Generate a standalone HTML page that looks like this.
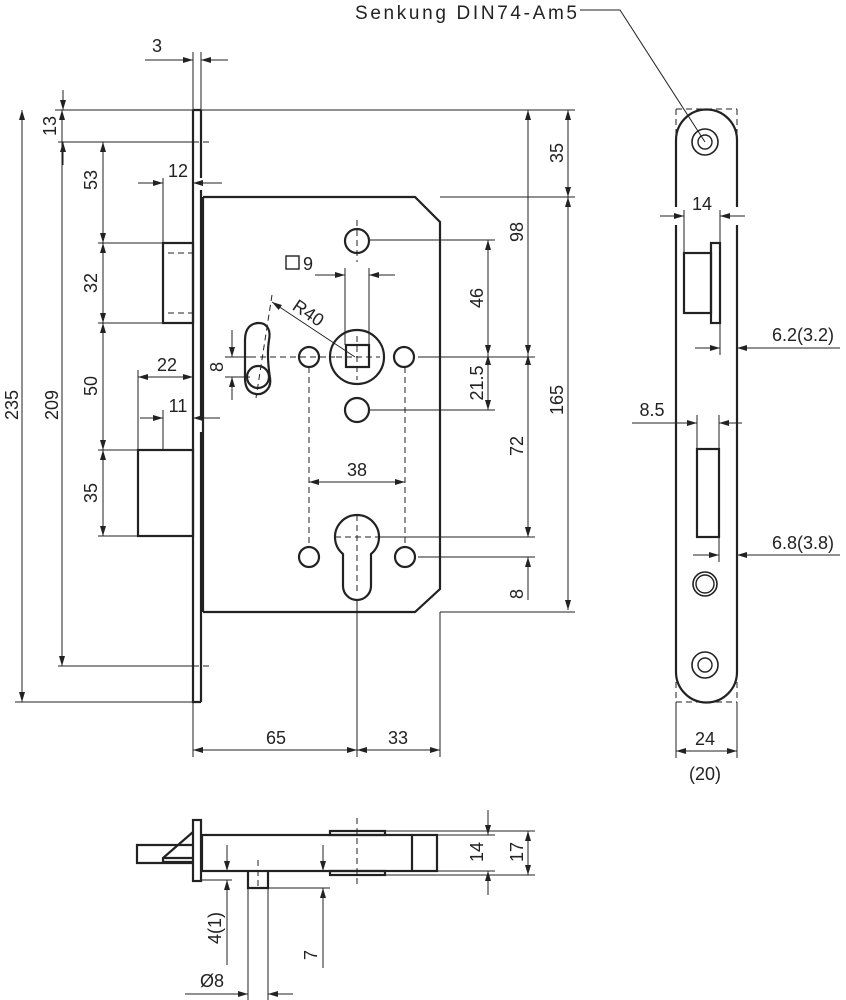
<!DOCTYPE html>
<html><head><meta charset="utf-8"><style>
html,body{margin:0;padding:0;background:#fff}
svg{display:block}
text{font-family:"Liberation Sans",sans-serif;font-size:18px;fill:#222}
</style></head><body>
<svg width="846" height="1000" viewBox="0 0 846 1000" xmlns="http://www.w3.org/2000/svg">
<defs>
<marker id="a" viewBox="0 0 10 6" refX="10" refY="3" markerWidth="10" markerHeight="6" markerUnits="userSpaceOnUse" orient="auto-start-reverse"><path d="M0,0L10,3L0,6z" fill="#222"/></marker>
</defs>
<g stroke="#222" fill="none">
<g stroke-width="2.2">
<path d="M193,110V702H201"/>
<path d="M201,110V178M201,190V420M201,432V702M193,110H201"/>
<path d="M203,197H415L440,222V589L415,612H203"/>
<path d="M203,197V612"/>
<rect x="163" y="243" width="30" height="80"/>
<rect x="138" y="450" width="55" height="86"/>
<circle cx="357" cy="241" r="12"/>
<circle cx="357" cy="357" r="27"/>
<rect x="346" y="345" width="23" height="22"/>
<circle cx="309" cy="357" r="10"/>
<circle cx="404" cy="357" r="10"/>
<circle cx="357" cy="410" r="12"/>
<circle cx="309" cy="557" r="10"/>
<circle cx="405" cy="557" r="10"/>
<path d="M343,554A22,22 0 1 1 371,554V586A14,14 0 0 1 343,586Z"/>
<path d="M245,340C245,328 251,323 259,323C267,323 271,330 269,340C267,352 268,365 270,378C272,390 262,395 256,394C249,393 245,388 245,378Z"/>
<circle cx="258" cy="377" r="11"/>
<path d="M676,140A30.5,30.5 0 0 1 737,140M676,672A30.5,30.5 0 0 0 737,672"/>
<path d="M676,140V207M676,225V672M737,140V207M737,225V672"/>
<circle cx="705" cy="142" r="13" stroke-width="1.6"/><circle cx="705" cy="142" r="7" stroke-width="1.4"/>
<circle cx="705" cy="584" r="12" stroke-width="1.6"/><circle cx="705" cy="584" r="9" stroke-width="1.4"/>
<circle cx="705" cy="665" r="13" stroke-width="1.6"/><circle cx="705" cy="665" r="7" stroke-width="1.4"/>
<rect x="684" y="253" width="27" height="60"/>
<rect x="711" y="243" width="9" height="80"/>
<rect x="697" y="449" width="22" height="88"/>
<rect x="202" y="835" width="235" height="36"/>
<path d="M412,835V871"/>
<rect x="193" y="820" width="8" height="61"/>
<path d="M193,845H137V863H193"/>
<path d="M193,832L163,858V862H193M163,858H193"/>
<rect x="330" y="831" width="55" height="4"/>
<rect x="330" y="871" width="55" height="4"/>
<path d="M248,871V888H268V871"/>
</g>
<g stroke-width="1" stroke-dasharray="6,4">
<path d="M168,253H193M168,313H193"/>
<path d="M230,357H335M309,367V547M405,367V547M357,220V262M336,357H380M357,336V380M357,515V595M335,537H380"/>
<path d="M272,295L256,398"/>
<path d="M193,142H212M193,666H212"/>
<path d="M676,109H737M676,109V140M737,109V140M676,702H737M676,672V702M737,672V702"/>
<path d="M357,818V888M258,860V890"/>
</g>
<g stroke-width="1">
<path d="M55,110H575M58,142H193M98,243H163M98,323H163M98,450H138M98,536H138M58,666H193M15,702H193"/>
<path d="M193,52V110M201,52V110M163,178V243M138,370V450M163,410V450"/>
<path d="M368,240H495M418,357H535M368,410H495M380,537H535M418,557H535M440,197H575M440,612H575"/>
<path d="M345,268V345M369,268V345"/>
<path d="M225,357H255M225,377H250"/>
<path d="M193,702V757M357,600V757M440,612V757"/>
<path d="M676,702V758M737,702V758M720,323V355M737,323V355M719,537V562M697,415V449M719,415V449M684,210V253M720,210V243"/>
<path d="M201,880H232M268,888H330M385,831H535M437,835H495M437,871H495M385,875H535M248,888V1000M268,888V1000"/>
<path d="M580,10H620L705,142"/>
</g>
<g stroke-width="1" marker-end="url(#a)">
<path d="M22,405V110"/><path d="M22,405V702"/>
<path d="M62,405V110"/><path d="M62,405V666"/>
<path d="M63,90V110"/><path d="M63,165V142"/>
<path d="M103,190V142"/><path d="M103,190V243"/>
<path d="M103,283V243"/><path d="M103,283V323"/>
<path d="M103,385V323"/><path d="M103,385V450"/>
<path d="M103,493V450"/><path d="M103,493V536"/>
<path d="M145,60H193"/><path d="M228,60H201"/>
<path d="M138,183H163"/><path d="M222,183H193"/>
<path d="M165,377H138"/><path d="M165,377H193"/>
<path d="M140,418H163"/><path d="M220,418H193"/>
<path d="M568,150V110"/><path d="M568,150V197"/>
<path d="M568,400V197"/><path d="M568,400V610"/>
<path d="M528,230V110"/><path d="M528,230V355"/>
<path d="M528,445V355"/><path d="M528,445V537"/>
<path d="M528,600V557"/><path d="M528,520V537"/>
<path d="M488,300V240"/><path d="M488,300V355"/>
<path d="M488,383V355"/><path d="M488,383V410"/>
<path d="M315,275H345"/><path d="M395,275H369"/>
<path d="M355,357L272,302"/>
<path d="M232,330V357"/><path d="M232,400V377"/>
<path d="M357,482H309"/><path d="M357,482H405"/>
<path d="M275,750H193"/><path d="M275,750H357"/>
<path d="M398,750H357"/><path d="M398,750H440"/>
<path d="M660,216H684"/><path d="M745,216H720"/>
<path d="M695,348H720"/><path d="M840,348H737"/>
<path d="M632,423H697"/><path d="M742,423H719"/>
<path d="M693,555H719"/><path d="M840,555H737"/>
<path d="M705,751H676"/><path d="M705,751H737"/>
<path d="M227,845V871"/><path d="M227,965V880"/>
<path d="M323,845V871"/><path d="M323,968V888"/>
<path d="M185,994H248"/><path d="M293,994H268"/>
<path d="M488,810V835"/><path d="M488,895V871"/>
<path d="M528,853V831"/><path d="M528,853V875"/>
</g>
</g>
<g text-anchor="middle">
<text x="157" y="52">3</text>
<text x="178" y="177">12</text>
<text x="167" y="371">22</text>
<text x="178" y="412">11</text>
<text x="357" y="476">38</text>
<text x="276" y="744">65</text>
<text x="398" y="744">33</text>
<text x="702" y="210">14</text>
<text x="803" y="341">6.2(3.2)</text>
<text x="652" y="416">8.5</text>
<text x="803" y="549">6.8(3.8)</text>
<text x="705" y="745">24</text>
<text x="705" y="780">(20)</text>
<text x="212" y="987">Ø8</text>
<text x="308" y="270">9</text>
<text transform="translate(18,405) rotate(-90)">235</text>
<text transform="translate(58,405) rotate(-90)">209</text>
<text transform="translate(56,126) rotate(-90)">13</text>
<text transform="translate(97,180) rotate(-90)">53</text>
<text transform="translate(97,283) rotate(-90)">32</text>
<text transform="translate(97,386) rotate(-90)">50</text>
<text transform="translate(97,493) rotate(-90)">35</text>
<text transform="translate(223,367) rotate(-90)">8</text>
<text transform="translate(563,153) rotate(-90)">35</text>
<text transform="translate(563,400) rotate(-90)">165</text>
<text transform="translate(523,232) rotate(-90)">98</text>
<text transform="translate(483,298) rotate(-90)">46</text>
<text transform="translate(483,383) rotate(-90)">21.5</text>
<text transform="translate(523,446) rotate(-90)">72</text>
<text transform="translate(523,594) rotate(-90)">8</text>
<text transform="translate(221,928) rotate(-90)">4(1)</text>
<text transform="translate(317,955) rotate(-90)">7</text>
<text transform="translate(483,852) rotate(-90)">14</text>
<text transform="translate(523,852) rotate(-90)">17</text>
<text transform="translate(305,318) rotate(34)">R40</text>
</g>
<text x="355" y="19" textLength="222" lengthAdjust="spacing" style="font-size:19px">Senkung DIN74-Am5</text>
<rect x="286" y="256" width="13" height="13" fill="none" stroke="#222" stroke-width="1.4"/>
</svg>
</body></html>
